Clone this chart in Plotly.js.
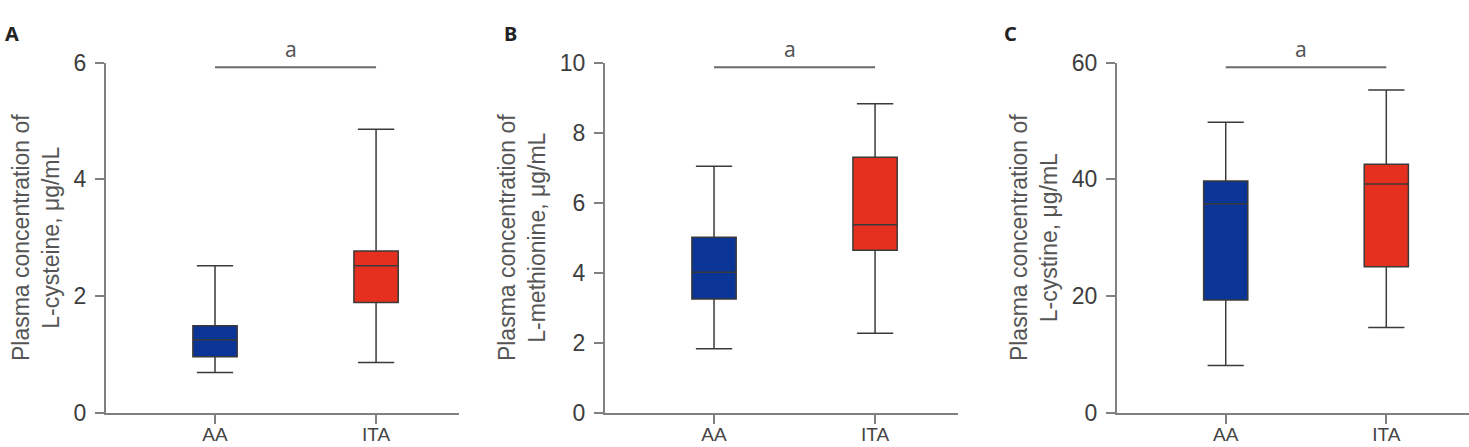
<!DOCTYPE html>
<html>
<head>
<meta charset="utf-8">
<script src="https://cdn.plot.ly/plotly-3.0.1.min.js"></script>
<style>
  html, body { margin: 0; padding: 0; background: #fff; }
  #chart { width: 1469px; height: 447px; }
</style>
</head>
<body>
<div id="chart"></div>
<script>
// Groups compared in every panel
const groups = ['AA', 'ITA'];

// Panel A: plasma L-cysteine (µg/mL), five-number summaries per group
const cysteineLower  = [0.69, 0.86];
const cysteineQ1     = [0.96, 1.89];
const cysteineMedian = [1.25, 2.52];
const cysteineQ3     = [1.49, 2.77];
const cysteineUpper  = [2.52, 4.86];

// Panel B: plasma L-methionine (µg/mL)
const methionineLower  = [1.83, 2.27];
const methionineQ1     = [3.25, 4.64];
const methionineMedian = [4.01, 5.37];
const methionineQ3     = [5.01, 7.30];
const methionineUpper  = [7.04, 8.83];

// Panel C: plasma L-cystine (µg/mL)
const cystineLower  = [8.1, 14.6];
const cystineQ1     = [19.3, 25.0];
const cystineMedian = [35.8, 39.2];
const cystineQ3     = [39.7, 42.6];
const cystineUpper  = [49.8, 55.3];

// Axis settings per panel
const panelLetters = ['A', 'B', 'C'];
const yTitles = [
  'Plasma concentration of<br>L-cysteine, μg/mL',
  'Plasma concentration of<br>L-methionine, μg/mL',
  'Plasma concentration of<br>L-cystine, μg/mL'
];
const yRanges = [[0, 6], [0, 10], [0, 60]];
const yDticks = [2, 2, 20];
const sigLabel = 'a';

const groupColors = ['#0b3497', '#e5301f'];

const panels = [
  { lower: cysteineLower, q1: cysteineQ1, med: cysteineMedian, q3: cysteineQ3, upper: cysteineUpper },
  { lower: methionineLower, q1: methionineQ1, med: methionineMedian, q3: methionineQ3, upper: methionineUpper },
  { lower: cystineLower, q1: cystineQ1, med: cystineMedian, q3: cystineQ3, upper: cystineUpper }
];

const W = 1469, H = 447;
const xDomains = [[106 / W, 459 / W], [605 / W, 958 / W], [1117 / W, 1.0]];
const yDomain = [(H - 412.7) / H, (H - 62.7) / H];
const letterX = [3 / W, 502 / W, 1002 / W];

const axisColor = '#808080';
const tickFont = { family: 'Liberation Sans, Arial, sans-serif', size: 23, color: '#3d3d3d' };
const catFont = { family: 'Liberation Sans, Arial, sans-serif', size: 19, color: '#444' };

const data = [];
const layout = {
  width: W, height: H,
  margin: { l: 0, r: 0, t: 0, b: 0 },
  paper_bgcolor: '#fff', plot_bgcolor: '#fff',
  showlegend: false,
  shapes: [], annotations: []
};

panels.forEach((p, i) => {
  const xa = i === 0 ? 'x' : 'x' + (i + 1);
  const ya = i === 0 ? 'y' : 'y' + (i + 1);
  groups.forEach((g, j) => {
    data.push({
      type: 'box',
      x: [g],
      q1: [p.q1[j]], median: [p.med[j]], q3: [p.q3[j]],
      lowerfence: [p.lower[j]], upperfence: [p.upper[j]],
      xaxis: xa, yaxis: ya,
      width: 0.275,
      whiskerwidth: 0.82,
      fillcolor: groupColors[j],
      line: { color: '#3a3a3a', width: 1.5 },
      boxpoints: false,
      hoverinfo: 'skip'
    });
  });

  const xKey = i === 0 ? 'xaxis' : 'xaxis' + (i + 1);
  const yKey = i === 0 ? 'yaxis' : 'yaxis' + (i + 1);
  layout[xKey] = {
    domain: xDomains[i], anchor: ya,
    type: 'category', categoryarray: groups,
    range: [-0.677, 1.515],
    showline: true, linecolor: axisColor, linewidth: 2,
    ticks: 'outside', ticklen: 9, tickwidth: 2, tickcolor: axisColor,
    tickfont: catFont, ticklabelstandoff: -6,
    showgrid: false, zeroline: false,
    fixedrange: true
  };
  layout[yKey] = {
    domain: yDomain, anchor: xa,
    range: yRanges[i], dtick: yDticks[i], tick0: 0,
    showline: true, linecolor: axisColor, linewidth: 2,
    ticks: 'outside', ticklen: 9, tickwidth: 2, tickcolor: axisColor,
    tickfont: tickFont, ticklabelstandoff: 4,
    showgrid: false, zeroline: false,
    title: { text: yTitles[i], font: { family: 'Liberation Sans, Arial, sans-serif', size: 23, color: '#555' }, standoff: 8 },
    fixedrange: true
  };

  // significance bar between the two groups
  layout.shapes.push({
    type: 'line', xref: xa, yref: ya + ' domain',
    x0: groups[0], x1: groups[1], y0: 0.987, y1: 0.987,
    line: { color: '#6a6a6a', width: 2 }
  });
  layout.annotations.push({
    xref: xa, yref: ya + ' domain', x: 0.47, y: 0.987,
    text: sigLabel, showarrow: false, xanchor: 'center', yanchor: 'bottom', yshift: 2,
    font: { family: 'Noto Sans, sans-serif', size: 21, color: '#555' }
  });
  // panel letter
  layout.annotations.push({
    xref: 'paper', yref: 'paper', x: letterX[i], y: (H - 18) / H,
    text: '<b>' + panelLetters[i] + '</b>', showarrow: false,
    xanchor: 'left', yanchor: 'top',
    font: { family: 'Noto Sans, sans-serif', size: 20, color: '#222' }
  });
});

Plotly.newPlot('chart', data, layout, { staticPlot: true, displayModeBar: false });
</script>
</body>
</html>
